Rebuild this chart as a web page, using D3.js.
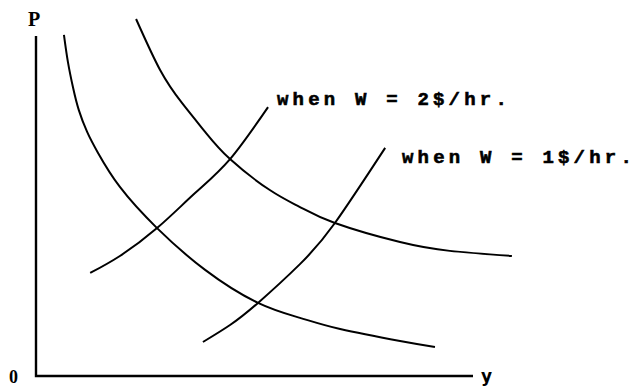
<!DOCTYPE html>
<html>
<head>
<meta charset="utf-8">
<script src="https://cdn.jsdelivr.net/npm/d3@7"></script>
<style>
  html, body { margin: 0; padding: 0; background: #fff; }
  svg { display: block; }
</style>
</head>
<body>
<svg id="chart" width="639" height="388"></svg>
<script>
// Curves on the (y, P) plane, in axis units 0..100
const curveLowX = [6.4, 7.3, 8.5, 9.8, 11.7, 14.2, 19.2, 27.7, 38.7, 50.8, 60.4, 69.6, 83.3, 91.3];
const curveLowP = [100.3, 92.4, 84.7, 78.2, 71.8, 65.6, 55.6, 43.5, 31.2, 21.5, 17.1, 13.8, 10.3, 8.5];

const curveHighX = [22.9, 28.4, 33.4, 38.7, 44.4, 53.5, 60.4, 68.4, 83.3, 94.7, 108.9];
const curveHighP = [105.0, 90.0, 80.3, 71.8, 63.8, 54.7, 49.7, 45.0, 39.4, 36.8, 35.3];

const wage2X = [12.4, 19.2, 27.7, 36.4, 44.4, 53.1];
const wage2P = [30.3, 35.3, 43.5, 53.8, 63.8, 79.1];

const wage1X = [38.2, 44.4, 50.8, 60.4, 68.4, 79.9];
const wage1P = [10.0, 15.0, 21.5, 32.9, 45.0, 67.1];

const wageLabels = ["when W = 2$/hr.", "when W = 1$/hr."];
const axisLabels = { vertical: "P", horizontal: "y", origin: "0" };

const svg = d3.select("#chart");

const x = d3.scaleLinear().domain([0, 100]).range([36, 473]);
const y = d3.scaleLinear().domain([0, 100]).range([376, 36]);

const line = d3.line()
  .x(d => x(d[0]))
  .y(d => y(d[1]))
  .curve(d3.curveNatural);

const series = [
  d3.zip(curveLowX, curveLowP),
  d3.zip(curveHighX, curveHighP),
  d3.zip(wage2X, wage2P),
  d3.zip(wage1X, wage1P)
];

// Axes: plain L-shaped frame
const axisPath = d3.path();
axisPath.moveTo(x(0), y(100));
axisPath.lineTo(x(0), y(0));
axisPath.lineTo(x(100), y(0));
svg.append("path")
  .attr("d", axisPath.toString())
  .attr("fill", "none")
  .attr("stroke", "#000")
  .attr("stroke-width", 2.4);

svg.selectAll("path.curve")
  .data(series)
  .join("path")
  .attr("class", "curve")
  .attr("d", line)
  .attr("fill", "none")
  .attr("stroke", "#000")
  .attr("stroke-width", 2);

// Axis labels
svg.append("text")
  .attr("x", 28).attr("y", 26)
  .attr("font-family", "Liberation Serif")
  .attr("font-weight", "bold")
  .attr("font-size", 20)
  .text(axisLabels.vertical);

svg.append("text")
  .attr("x", 9).attr("y", 383)
  .attr("font-family", "Liberation Serif")
  .attr("font-weight", "bold")
  .attr("font-size", 18)
  .text(axisLabels.origin);

svg.append("text")
  .attr("x", 481).attr("y", 382)
  .attr("font-family", "DejaVu Sans")
  .attr("font-weight", "bold")
  .attr("font-size", 17)
  .text(axisLabels.horizontal);

// Wage labels beside the upper ends of the two rising curves
const labelPos = [[277, 105], [402, 163]];
svg.selectAll("text.wage")
  .data(wageLabels)
  .join("text")
  .attr("class", "wage")
  .attr("x", (d, i) => labelPos[i][0])
  .attr("y", (d, i) => labelPos[i][1])
  .attr("font-family", "Liberation Mono")
  .attr("font-weight", "bold")
  .attr("font-size", 19)
  .attr("letter-spacing", 4.2)
  .attr("stroke", "#000")
  .attr("stroke-width", 0.6)
  .attr("xml:space", "preserve")
  .style("white-space", "pre")
  .text(d => d);
</script>
</body>
</html>
